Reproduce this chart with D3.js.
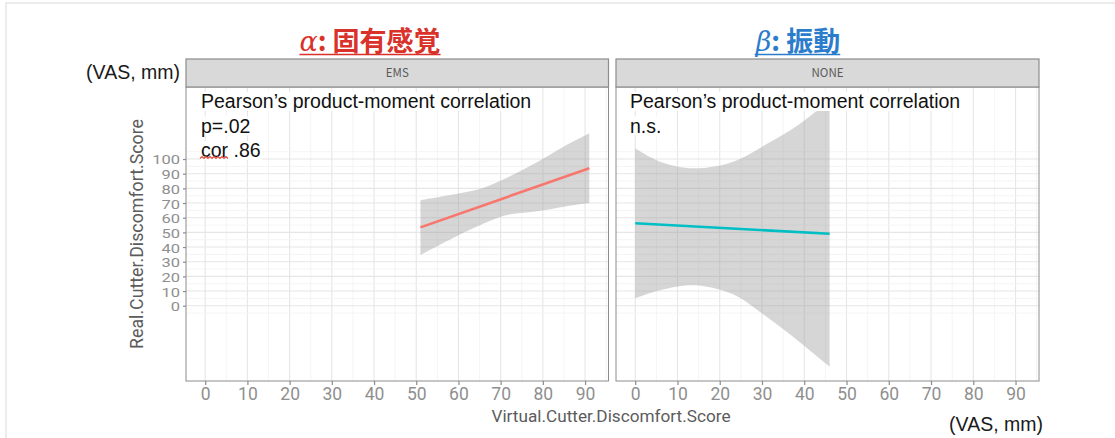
<!DOCTYPE html>
<html>
<head>
<meta charset="utf-8">
<script src="https://cdn.jsdelivr.net/npm/d3@7"></script>
<style>
  html, body { margin: 0; padding: 0; background: #fff; }
  svg { display: block; }
</style>
</head>
<body>
<svg id="chart" width="1115" height="438"></svg>
<script>
// ---- data ----
const panels = ["EMS", "NONE"];
const panelTitles = ["固有感覚", "振動"];
const panelGreek = ["α", "β"];
const xTicks = [0, 10, 20, 30, 40, 50, 60, 70, 80, 90];
const yTicks = [0, 10, 20, 30, 40, 50, 60, 70, 80, 90, 100];

// EMS: fitted line and 95% band
const emsFitX = [51, 91];
const emsFitY = [53.4, 93.7];
const emsBandX = [51, 60, 66, 71, 79, 85, 91];
const emsBandUpper = [72, 76.5, 80.5, 86.5, 98.5, 108.5, 117.5];
const emsBandLower = [34.5, 48, 56, 61.5, 64.5, 67.5, 70];

// NONE: fitted line and 95% band
const noneFitX = [0, 46];
const noneFitY = [56.2, 49.1];
const noneBandX = [0, 6, 14, 23, 31, 39, 46];
const noneBandUpper = [107.3, 98, 93.7, 98, 110, 124, 140];
const noneBandLower = [5, 10.7, 14, 8, -7.4, -25, -41.5];

const annotations = [
  ["Pearson’s product-moment correlation", "p=.02", "cor .86"],
  ["Pearson’s product-moment correlation", "n.s."]
];

// ---- layout ----
const svg = d3.select("#chart");
const sans = "'Noto Sans CJK JP', 'Noto Sans', sans-serif";
const tickFont = "Roboto, 'Noto Sans', sans-serif";
const helv = "'Liberation Sans', Arial, sans-serif";

// light outer frame
svg.append("rect").attr("x", 6).attr("y", 3).attr("width", 1112).attr("height", 440)
  .attr("fill", "none").attr("stroke", "#ececec").attr("stroke-width", 2);

const panelTop = 87, panelBottom = 381, stripTop = 59;
const panelX = [[186, 608.5], [616, 1039]];
const colors = ["#F8766D", "#00BFC4"];
const titleColors = ["#d8322a", "#2c7ccc"];

const y = d3.scaleLinear().domain([-51.3, 149.1]).range([panelBottom, panelTop]);

const bands = [
  { fx: emsFitX, fy: emsFitY, bx: emsBandX, bu: emsBandUpper, bl: emsBandLower },
  { fx: noneFitX, fy: noneFitY, bx: noneBandX, bu: noneBandUpper, bl: noneBandLower }
];

panels.forEach((name, i) => {
  const [x0, x1] = panelX[i];
  const x = d3.scaleLinear().domain([-4.55, 95.55]).range([x0, x1]);
  const g = svg.append("g");

  // panel background
  g.append("rect").attr("x", x0).attr("y", panelTop).attr("width", x1 - x0)
    .attr("height", panelBottom - panelTop).attr("fill", "#fff");

  // vertical grid
  const xMinor = d3.range(5, 96, 10);
  g.selectAll(".vminor").data(xMinor).join("line")
    .attr("x1", d => x(d)).attr("x2", d => x(d))
    .attr("y1", panelTop).attr("y2", panelBottom)
    .attr("stroke", "#f1f1f1").attr("stroke-width", 0.8);
  g.selectAll(".vmajor").data(xTicks).join("line")
    .attr("x1", d => x(d)).attr("x2", d => x(d))
    .attr("y1", panelTop).attr("y2", panelBottom)
    .attr("stroke", "#e6e6e6").attr("stroke-width", 1.1);

  // horizontal grid
  const yMinor = d3.range(-5, 106, 10);
  g.selectAll(".hminor").data(yMinor).join("line")
    .attr("x1", x0).attr("x2", x1)
    .attr("y1", d => y(d)).attr("y2", d => y(d))
    .attr("stroke", "#f1f1f1").attr("stroke-width", 0.8);
  g.selectAll(".hmajor").data(yTicks).join("line")
    .attr("x1", x0).attr("x2", x1)
    .attr("y1", d => y(d)).attr("y2", d => y(d))
    .attr("stroke", "#e6e6e6").attr("stroke-width", 1.1);

  // confidence band
  const b = bands[i];
  const bandData = b.bx.map((v, k) => ({ x: v, lo: b.bl[k], hi: b.bu[k] }));
  const area = d3.area().x(d => x(d.x)).y0(d => y(d.lo)).y1(d => y(d.hi))
    .curve(d3.curveCatmullRom.alpha(0.5));
  g.append("path").datum(bandData).attr("d", area)
    .attr("fill", "#999").attr("fill-opacity", 0.4);

  // fitted line
  const fitData = b.fx.map((v, k) => ({ x: v, y: b.fy[k] }));
  g.append("path").datum(fitData)
    .attr("d", d3.line().x(d => x(d.x)).y(d => y(d.y)))
    .attr("fill", "none").attr("stroke", colors[i]).attr("stroke-width", 2.6);

  // panel border
  g.append("rect").attr("x", x0).attr("y", panelTop).attr("width", x1 - x0)
    .attr("height", panelBottom - panelTop).attr("fill", "none")
    .attr("stroke", "#8c8c8c").attr("stroke-width", 1);

  // strip
  g.append("rect").attr("x", x0).attr("y", stripTop).attr("width", x1 - x0)
    .attr("height", panelTop - stripTop).attr("fill", "#d9d9d9")
    .attr("stroke", "#8c8c8c").attr("stroke-width", 1.2);
  g.append("text").attr("x", (x0 + x1) / 2).attr("y", (stripTop + panelTop) / 2 + 4)
    .attr("text-anchor", "middle").attr("font-family", sans).attr("font-size", 11.5)
    .attr("fill", "#5a5a5a").text(name);

  // x axis
  const xa = svg.append("g").attr("transform", `translate(0,${panelBottom})`)
    .call(d3.axisBottom(x).tickValues(xTicks).tickSize(4).tickPadding(3));
  xa.select(".domain").remove();
  xa.selectAll(".tick line").attr("stroke", "#8c8c8c").attr("stroke-width", 1.2);
  xa.selectAll(".tick text").attr("font-family", tickFont).attr("font-size", 17.5)
    .attr("fill", "#8f8f8f");

  // annotation text with white backing
  const tx = i === 0 ? 201 : 630;
  const ag = svg.append("g");
  annotations[i].forEach((line, k) => {
    const t = ag.append("text").attr("x", tx).attr("y", 108 + k * 24.5)
      .attr("font-family", helv).attr("font-size", 19.5).attr("fill", "#111").text(line);
    const bb = t.node().getBBox();
    ag.insert("rect", "text").attr("x", bb.x - 1).attr("y", bb.y + 2)
      .attr("width", bb.width + 2).attr("height", bb.height - 3).attr("fill", "#fff");
  });

  // title
  const tg = svg.append("text").attr("x", i === 0 ? 370 : 798).attr("y", 51)
    .attr("text-anchor", "middle").attr("fill", titleColors[i])
    .attr("font-size", 27);
  tg.append("tspan").attr("font-family", "'DejaVu Serif', serif").attr("font-style", "italic")
    .text(panelGreek[i]);
  tg.append("tspan").attr("font-family", sans).attr("font-weight", 700).text(": ");
  tg.append("tspan").attr("font-family", sans).attr("font-weight", 700).text(panelTitles[i]);
  const tb = tg.node().getBBox();
  svg.append("line").attr("x1", tb.x).attr("x2", tb.x + tb.width)
    .attr("y1", 54.5).attr("y2", 54.5).attr("stroke", titleColors[i]).attr("stroke-width", 1.6);
});

// spell-check squiggle under "cor"
const squiggle = d3.range(0, 15).map(k => [200 + k * 2, 157.5 + (k % 2 ? -1 : 1)]);
svg.append("path").attr("d", d3.line()(squiggle))
  .attr("fill", "none").attr("stroke", "#e0453a").attr("stroke-width", 1.1);

// y axis (left panel only); labels are set tight, so they are drawn vertically condensed
const ya = svg.append("g").attr("transform", `translate(${panelX[0][0]},0)`)
  .call(d3.axisLeft(y).tickValues(yTicks).tickSize(3).tickPadding(3));
ya.select(".domain").remove();
ya.selectAll(".tick line").attr("stroke", "#8c8c8c").attr("stroke-width", 1.2);
ya.selectAll(".tick text").attr("font-family", tickFont).attr("font-size", 16.5)
  .attr("fill", "#8f8f8f").attr("transform", "scale(1,0.75)")
  .attr("dy", "0.4em");

// axis titles
svg.append("text").attr("x", 611).attr("y", 422).attr("text-anchor", "middle")
  .attr("font-family", tickFont).attr("font-size", 17.2).attr("fill", "#5c5c5c")
  .text("Virtual.Cutter.Discomfort.Score");
svg.append("text").attr("transform", "translate(143,234) rotate(-90)")
  .attr("text-anchor", "middle").attr("font-family", tickFont).attr("font-size", 17.8)
  .attr("fill", "#5c5c5c").text("Real.Cutter.Discomfort.Score");

// unit labels
svg.append("text").attr("x", 180).attr("y", 79).attr("text-anchor", "end")
  .attr("font-family", helv).attr("font-size", 19.5).attr("fill", "#1a1a1a").text("(VAS, mm)");
svg.append("text").attr("x", 1043).attr("y", 431).attr("text-anchor", "end")
  .attr("font-family", helv).attr("font-size", 19.5).attr("fill", "#1a1a1a").text("(VAS, mm)");
</script>
</body>
</html>
